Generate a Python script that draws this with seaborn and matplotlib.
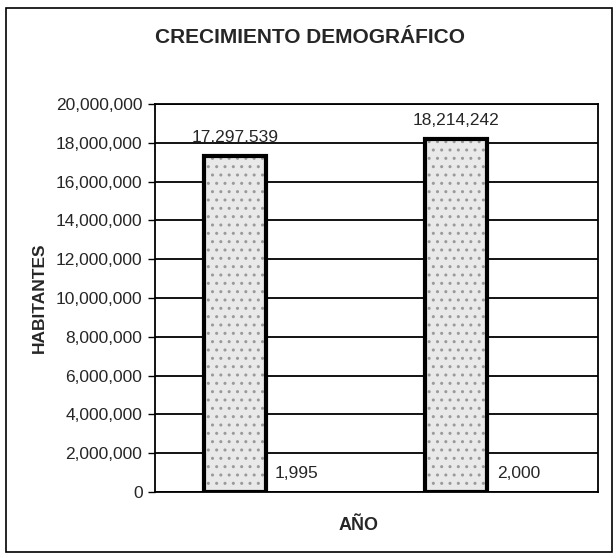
import pandas as pd
import seaborn as sns
import matplotlib.pyplot as plt
from matplotlib.patches import Rectangle
from matplotlib.ticker import FuncFormatter

# -------------------------
# data
# -------------------------
anios = ["1995", "2000"]
habitantes = [17297539, 18214242]
anio_valor = [1995, 2000]          # Excel plotted the year itself as a second series
series = ["Habitantes", "Año"]
y_ticks = list(range(0, 20000001, 2000000))

df = pd.DataFrame({
    "anio": anios * 2,
    "serie": [series[0]] * len(anios) + [series[1]] * len(anios),
    "valor": habitantes + anio_valor,
})

# -------------------------
# style
# -------------------------
sns.set_style("white")
plt.rcParams["font.family"] = ["Liberation Sans", "DejaVu Sans"]

fig = plt.figure(figsize=(6.16, 5.58), dpi=100)
ax = fig.add_axes([155 / 616, 66 / 558, 443 / 616, 388 / 558])

sns.barplot(data=df, x="anio", y="valor", hue="serie", width=0.56, gap=0,
            palette=["#e9e9e9", "white"], saturation=1, legend=False, ax=ax)

# stippled fill + heavy outline on the population bars
for bar in ax.containers[0]:
    bar.set_hatch("..")
    bar.set_edgecolor("#9a9a9a")
    bar.set_linewidth(0)
    ax.add_patch(Rectangle(bar.get_xy(), bar.get_width(), bar.get_height(),
                           fill=False, edgecolor="black", linewidth=3, zorder=3))
for bar in ax.containers[1]:
    bar.set_linewidth(0)

ax.bar_label(ax.containers[0], labels=[f"{v:,}" for v in habitantes],
             padding=8, fontsize=12.5)
ax.bar_label(ax.containers[1], labels=[f"{v:,}" for v in anio_valor],
             padding=8, fontsize=12.5)

ax.set_ylim(0, 20000000)
ax.set_yticks(y_ticks)
ax.yaxis.set_major_formatter(FuncFormatter(lambda v, p: f"{v:,.0f}"))
ax.tick_params(axis="y", length=5, width=1, color="black", labelsize=12.5, pad=4, left=True)
ax.tick_params(axis="x", length=0, labelbottom=False)
ax.grid(axis="y", color="black", linewidth=1.3)
ax.set_axisbelow(True)
for s in ax.spines.values():
    s.set_color("black")
    s.set_linewidth(1.3)

ax.set_xlabel("AÑO", fontsize=13, fontweight="bold")
ax.xaxis.set_label_coords(0.46, -0.065)
ax.set_ylabel("HABITANTES", fontsize=12.5, fontweight="bold")
ax.yaxis.set_label_coords(-0.245, 0.5)

fig.text(0.504, 0.932, "CRECIMIENTO DEMOGRÁFICO", ha="center", va="center",
         fontsize=15, fontweight="bold")

# outer chart border
fig.patches.append(Rectangle((6 / 616, 6 / 558), 606 / 616, 544 / 558,
                             transform=fig.transFigure, fill=False,
                             edgecolor="black", linewidth=1.2))

fig.savefig("out.png", dpi=100)
